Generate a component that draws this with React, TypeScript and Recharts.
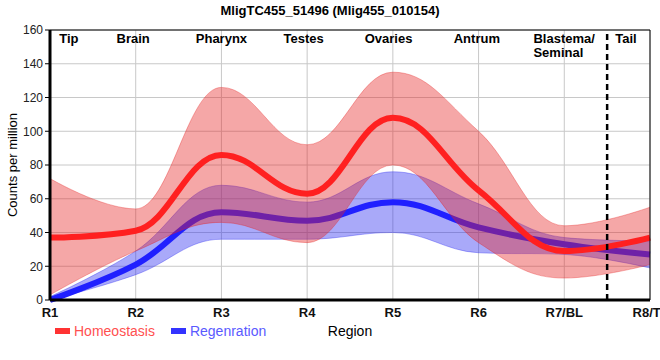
import React from 'react';
import {
    ComposedChart,
    Area,
    Line,
    XAxis,
    YAxis,
    CartesianGrid,
    ReferenceLine,
} from 'recharts';

// x positions R1..R8 (counts per million)
const regions = ['R1', 'R2', 'R3', 'R4', 'R5', 'R6', 'R7/BL', 'R8/T'];
const homeoMean = [37, 41, 86, 63, 108, 65, 29, 37];
const homeoLow = [3, 29, 46, 34, 80, 34, 13, 21];
const homeoHigh = [72, 54, 126, 92, 135, 100, 44, 55];
const regenMean = [0, 21, 52, 47, 58, 43, 33, 27];
const regenLow = [0, 15, 36, 36, 40, 28, 27, 19];
const regenHigh = [2, 29, 68, 58, 76, 57, 37, 35];

// body-part names along the top, with the x (in region units) they sit at
const partNames = [['Tip'], ['Brain'], ['Pharynx'], ['Testes'], ['Ovaries'], ['Antrum'], ['Blastema/', 'Seminal'], ['Tail']];
const partAt = [0.22, 0.97, 2, 2.96, 3.95, 4.98, 5.64, 6.72];

const yTicks = [0, 20, 40, 60, 80, 100, 120, 140, 160];
const tailBoundary = 6.5;

const data = regions.map((r, i) => ({
    idx: i,
    homeo: homeoMean[i],
    homeoBand: [homeoLow[i], homeoHigh[i]],
    regen: regenMean[i],
    regenBand: [regenLow[i], regenHigh[i]],
}));

const FONT = '"Liberation Sans", Arial, sans-serif';

// spline with flat tangents at local extremes (control points at 0.4 of the gap),
// written as a d3-style curve factory so Recharts can use it for lines and range areas
const smoothSpline = (context: any) => {
    let xs: number[] = [];
    let ys: number[] = [];
    let line = NaN;
    const sm = 1.5;
    return {
        areaStart() { line = 0; },
        areaEnd() { line = NaN; },
        lineStart() { xs = []; ys = []; },
        point(x: number, y: number) { xs.push(+x); ys.push(+y); },
        lineEnd() {
            const n = xs.length;
            if (n) {
                if (line) context.lineTo(xs[0], ys[0]);
                else context.moveTo(xs[0], ys[0]);
                const lc: number[][] = [];
                const rc: number[][] = [];
                for (let i = 0; i < n; i++) {
                    const px = xs[i], py = ys[i];
                    if (i === 0 || i === n - 1) {
                        lc.push([px, py]);
                        rc.push([px, py]);
                        continue;
                    }
                    const lx = xs[i - 1], ly = ys[i - 1], nx = xs[i + 1], ny = ys[i + 1];
                    let lcx = (sm * px + lx) / (sm + 1);
                    let lcy = (sm * py + ly) / (sm + 1);
                    let rcx = (sm * px + nx) / (sm + 1);
                    let rcy = (sm * py + ny) / (sm + 1);
                    let corr = 0;
                    if (rcx !== lcx) corr = ((rcy - lcy) * (rcx - px)) / (rcx - lcx) + py - rcy;
                    lcy += corr;
                    rcy += corr;
                    if (lcy > ly && lcy > py) { lcy = Math.max(ly, py); rcy = 2 * py - lcy; }
                    else if (lcy < ly && lcy < py) { lcy = Math.min(ly, py); rcy = 2 * py - lcy; }
                    if (rcy > ny && rcy > py) { rcy = Math.max(ny, py); lcy = 2 * py - rcy; }
                    else if (rcy < ny && rcy < py) { rcy = Math.min(ny, py); lcy = 2 * py - rcy; }
                    lc.push([lcx, lcy]);
                    rc.push([rcx, rcy]);
                }
                for (let i = 1; i < n; i++) {
                    context.bezierCurveTo(rc[i - 1][0], rc[i - 1][1], lc[i][0], lc[i][1], xs[i], ys[i]);
                }
            }
            if (line || (line !== 0 && n === 1)) context.closePath();
            line = 1 - line;
        },
    };
};

const PartLabel = (props: any) => {
    const { viewBox, lines } = props;
    const x = viewBox.x;
    const anchor = lines.length > 1 ? 'start' : 'middle';
    return (
        <text x={x} y={viewBox.y + 13} textAnchor={anchor} fontFamily={FONT} fontWeight="bold" fontSize={13} fill="#000">
            {lines.map((l: string, i: number) => (
                <tspan key={l} x={x} dy={i === 0 ? 0 : 14}>{l}</tspan>
            ))}
        </text>
    );
};

const YLabel = (props: any) => {
    const { viewBox } = props;
    const x = viewBox.x + 17;
    const y = viewBox.y + viewBox.height / 2;
    return (
        <text x={x} y={y} transform={`rotate(-90, ${x}, ${y})`} textAnchor="middle" fontFamily={FONT} fontSize={13} fill="#000">
            Counts per million
        </text>
    );
};

const App = () => {
    return (
        <div style={{ position: 'absolute', left: 0, top: 0, width: 660, height: 360, overflow: 'hidden', fontFamily: FONT, background: '#fff' }}>
            <div style={{ position: 'absolute', top: 3, width: 660, textAlign: 'center', fontWeight: 'bold', fontSize: 13, color: '#000' }}>
                MligTC455_51496 (Mlig455_010154)
            </div>
            <ComposedChart width={660} height={360} data={data} margin={{ top: 30, right: 10, bottom: 0, left: 0 }}>
                <CartesianGrid stroke="#c8c8c8" strokeWidth={1} />
                <XAxis
                    dataKey="idx"
                    type="number"
                    domain={[0, 7]}
                    ticks={regions.map((_, i) => i)}
                    tickFormatter={(v: number) => regions[v]}
                    height={60}
                    tickLine={false}
                    axisLine={{ stroke: '#000', strokeWidth: 3 }}
                    tick={{ fill: '#111', fontSize: 13, fontWeight: 'bold', fontFamily: FONT }}
                    label={{ value: 'Region', position: 'insideTop', offset: 26, fill: '#000', fontSize: 14, fontFamily: FONT }}
                />
                <YAxis
                    type="number"
                    domain={[0, 160]}
                    ticks={yTicks}
                    width={50}
                    interval={0}
                    axisLine={{ stroke: '#000', strokeWidth: 3 }}
                    tickLine={{ stroke: '#000' }}
                    tickSize={5}
                    tick={{ fill: '#222', fontSize: 12, fontFamily: FONT }}
                    label={<YLabel />}
                />

                <Area type={smoothSpline as any} dataKey="regenBand" fill="#2828f0" fillOpacity={0.4} stroke="#2828f0" strokeOpacity={0.35} strokeWidth={1} isAnimationActive={false} zIndex={100} />
                <Line type={smoothSpline as any} dataKey="regen" stroke="#2020ff" strokeWidth={6} dot={false} activeDot={false} isAnimationActive={false} zIndex={101} />
                <Area type={smoothSpline as any} dataKey="homeoBand" fill="#e62222" fillOpacity={0.4} stroke="#e62222" strokeOpacity={0.35} strokeWidth={1} isAnimationActive={false} zIndex={102} />
                <Line type={smoothSpline as any} dataKey="homeo" stroke="#ff2020" strokeWidth={6} dot={false} activeDot={false} isAnimationActive={false} zIndex={103} />

                <ReferenceLine y={160} stroke="#000" strokeWidth={1} zIndex={104} />
                <ReferenceLine x={7} stroke="#000" strokeWidth={1} zIndex={104} />
                <ReferenceLine x={tailBoundary} stroke="#000" strokeWidth={2.5} strokeDasharray="6 4" zIndex={104} />
                {partNames.map((lines, i) => (
                    <ReferenceLine key={lines[0]} x={partAt[i]} stroke="none" label={<PartLabel lines={lines} />} />
                ))}
            </ComposedChart>
            <div style={{ position: 'absolute', left: 55, top: 323, display: 'flex', alignItems: 'center', fontSize: 14 }}>
                <span style={{ display: 'inline-block', width: 15, height: 6, background: '#ff3333', marginRight: 4 }} />
                <span style={{ color: '#ff5050', marginRight: 16 }}>Homeostasis</span>
                <span style={{ display: 'inline-block', width: 15, height: 6, background: '#3333ff', marginRight: 4 }} />
                <span style={{ color: '#5a5aff' }}>Regenration</span>
            </div>
        </div>
    );
};

export default App;
